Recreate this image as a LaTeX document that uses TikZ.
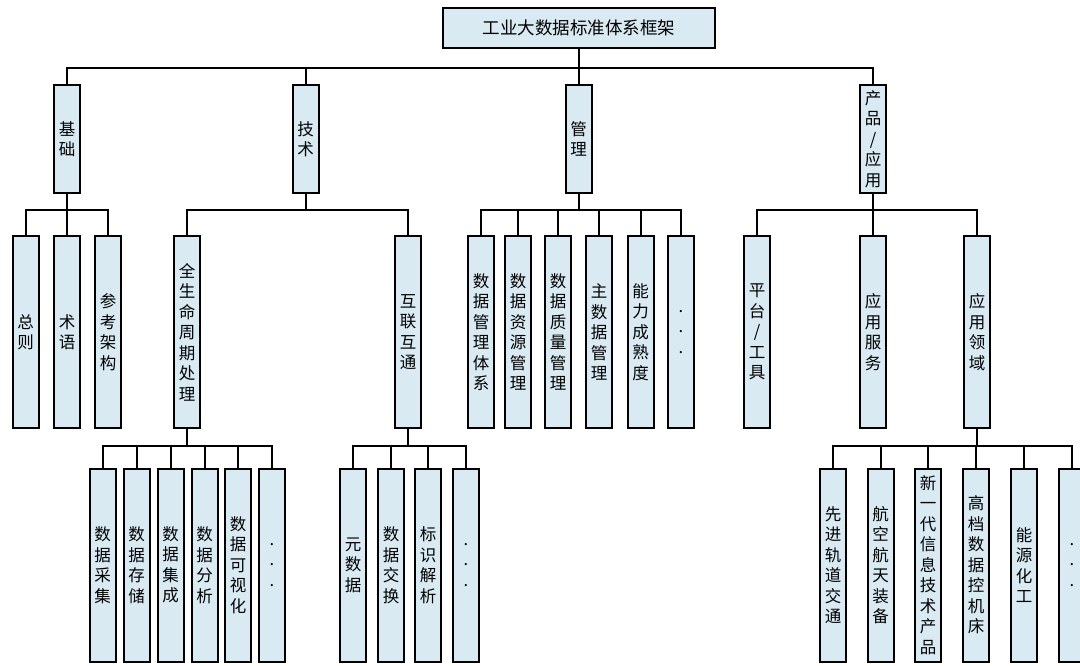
\documentclass[tikz,border=0pt]{standalone}
\usepackage{fontspec}
\setmainfont{Noto Sans CJK SC}
\definecolor{boxblue}{RGB}{217,234,243}

\begin{document}
\begin{tikzpicture}[x=1pt, y=-1pt, line width=2pt,
  box/.style={draw, fill=boxblue, inner sep=0pt, align=center, minimum width=26pt, font=\fontsize{16.5}{20.5}\selectfont},
  lvone/.style={box, minimum height=108pt},
  lvtwo/.style={box, minimum height=192pt},
  lvthree/.style={box, minimum height=193pt}]
  \useasboundingbox (0,0) rectangle (1080,666);

  % root
  \node [box, minimum width=272pt, minimum height=40pt, font=\fontsize{17.5}{20}\selectfont] (root) at (579,28) {工业大数据标准体系框架};

  % first level
  \node [lvone] (jichu)   at (67,139)    {基\\础};
  \node [lvone] (jishu)   at (305.5,139) {技\\术};
  \node [lvone] (guanli)  at (578.5,139) {管\\理};
  \node [lvone] (chanpin) at (873,139)   {产\\品\\/\\应\\用};

  % second level
  \node [lvtwo] (zongze)    at (25.5,332) {总\\则};
  \node [lvtwo] (shuyu)     at (67,332)   {术\\语};
  \node [lvtwo] (cankao)    at (108,332)  {参\\考\\架\\构};
  \node [lvtwo] (quansheng) at (187,332)  {全\\生\\命\\周\\期\\处\\理};
  \node [lvtwo] (hulian)    at (408,332)  {互\\联\\互\\通};
  \node [lvtwo] (tixi)      at (481,332)  {数\\据\\管\\理\\体\\系};
  \node [lvtwo] (ziyuan)    at (518,332)  {数\\据\\资\\源\\管\\理};
  \node [lvtwo] (zhiliang)  at (558,332)  {数\\据\\质\\量\\管\\理};
  \node [lvtwo] (zhushuju)  at (599,332)  {主\\数\\据\\管\\理};
  \node [lvtwo] (nengli)    at (640.5,332) {能\\力\\成\\熟\\度};
  \node [lvtwo] (gldots)    at (681,332)  {.\\.\\.};
  \node [lvtwo] (pingtai)   at (757,332)  {平\\台\\/\\工\\具};
  \node [lvtwo] (fuwu)      at (873,332)  {应\\用\\服\\务};
  \node [lvtwo] (lingyu)    at (977,332)  {应\\用\\领\\域};

  % third level
  \node [lvthree] (caiji)    at (102.5,565) {数\\据\\采\\集};
  \node [lvthree] (cunchu)   at (136.5,565) {数\\据\\存\\储};
  \node [lvthree] (jicheng)  at (170.5,565) {数\\据\\集\\成};
  \node [lvthree] (fenxi)    at (204.5,565) {数\\据\\分\\析};
  \node [lvthree] (keshi)    at (238,565)   {数\\据\\可\\视\\化};
  \node [lvthree] (smdots)   at (272,565)   {.\\.\\.};
  \node [lvthree] (yuan)     at (353,565)   {元\\数\\据};
  \node [lvthree] (jiaohuan) at (391,565)   {数\\据\\交\\换};
  \node [lvthree] (biaoshi)  at (428,565)   {标\\识\\解\\析};
  \node [lvthree] (hldots)   at (466,565)   {.\\.\\.};
  \node [lvthree] (guidao)   at (833,565)   {先\\进\\轨\\道\\交\\通};
  \node [lvthree] (hangkong) at (880.5,565) {航\\空\\航\\天\\装\\备};
  \node [lvthree] (xinyidai) at (928,565)   {新\\一\\代\\信\\息\\技\\术\\产\\品};
  \node [lvthree] (gaodang)  at (976,565)   {高\\档\\数\\据\\控\\机\\床};
  \node [lvthree] (nengyuan) at (1024,565)  {能\\源\\化\\工};
  \node [lvthree] (lydots)   at (1072,565)  {.\\.\\.};

  % connectors
  \foreach \c in {jichu,jishu,guanli,chanpin}
    \draw (root.south) -- ++(0,19) -| (\c.north);
  \foreach \c in {zongze,shuyu,cankao}
    \draw (jichu.south) -- ++(0,16) -| (\c.north);
  \foreach \c in {quansheng,hulian}
    \draw (jishu.south) -- ++(0,16) -| (\c.north);
  \foreach \c in {tixi,ziyuan,zhiliang,zhushuju,nengli,gldots}
    \draw (guanli.south) -- ++(0,16) -| (\c.north);
  \foreach \c in {pingtai,fuwu,lingyu}
    \draw (chanpin.south) -- ++(0,16) -| (\c.north);
  \foreach \c in {caiji,cunchu,jicheng,fenxi,keshi,smdots}
    \draw (quansheng.south) -- ++(0,17) -| (\c.north);
  \foreach \c in {yuan,jiaohuan,biaoshi,hldots}
    \draw (hulian.south) -- ++(0,17) -| (\c.north);
  \foreach \c in {guidao,hangkong,xinyidai,gaodang,nengyuan,lydots}
    \draw (lingyu.south) -- ++(0,17) -| (\c.north);
\end{tikzpicture}
\end{document}
